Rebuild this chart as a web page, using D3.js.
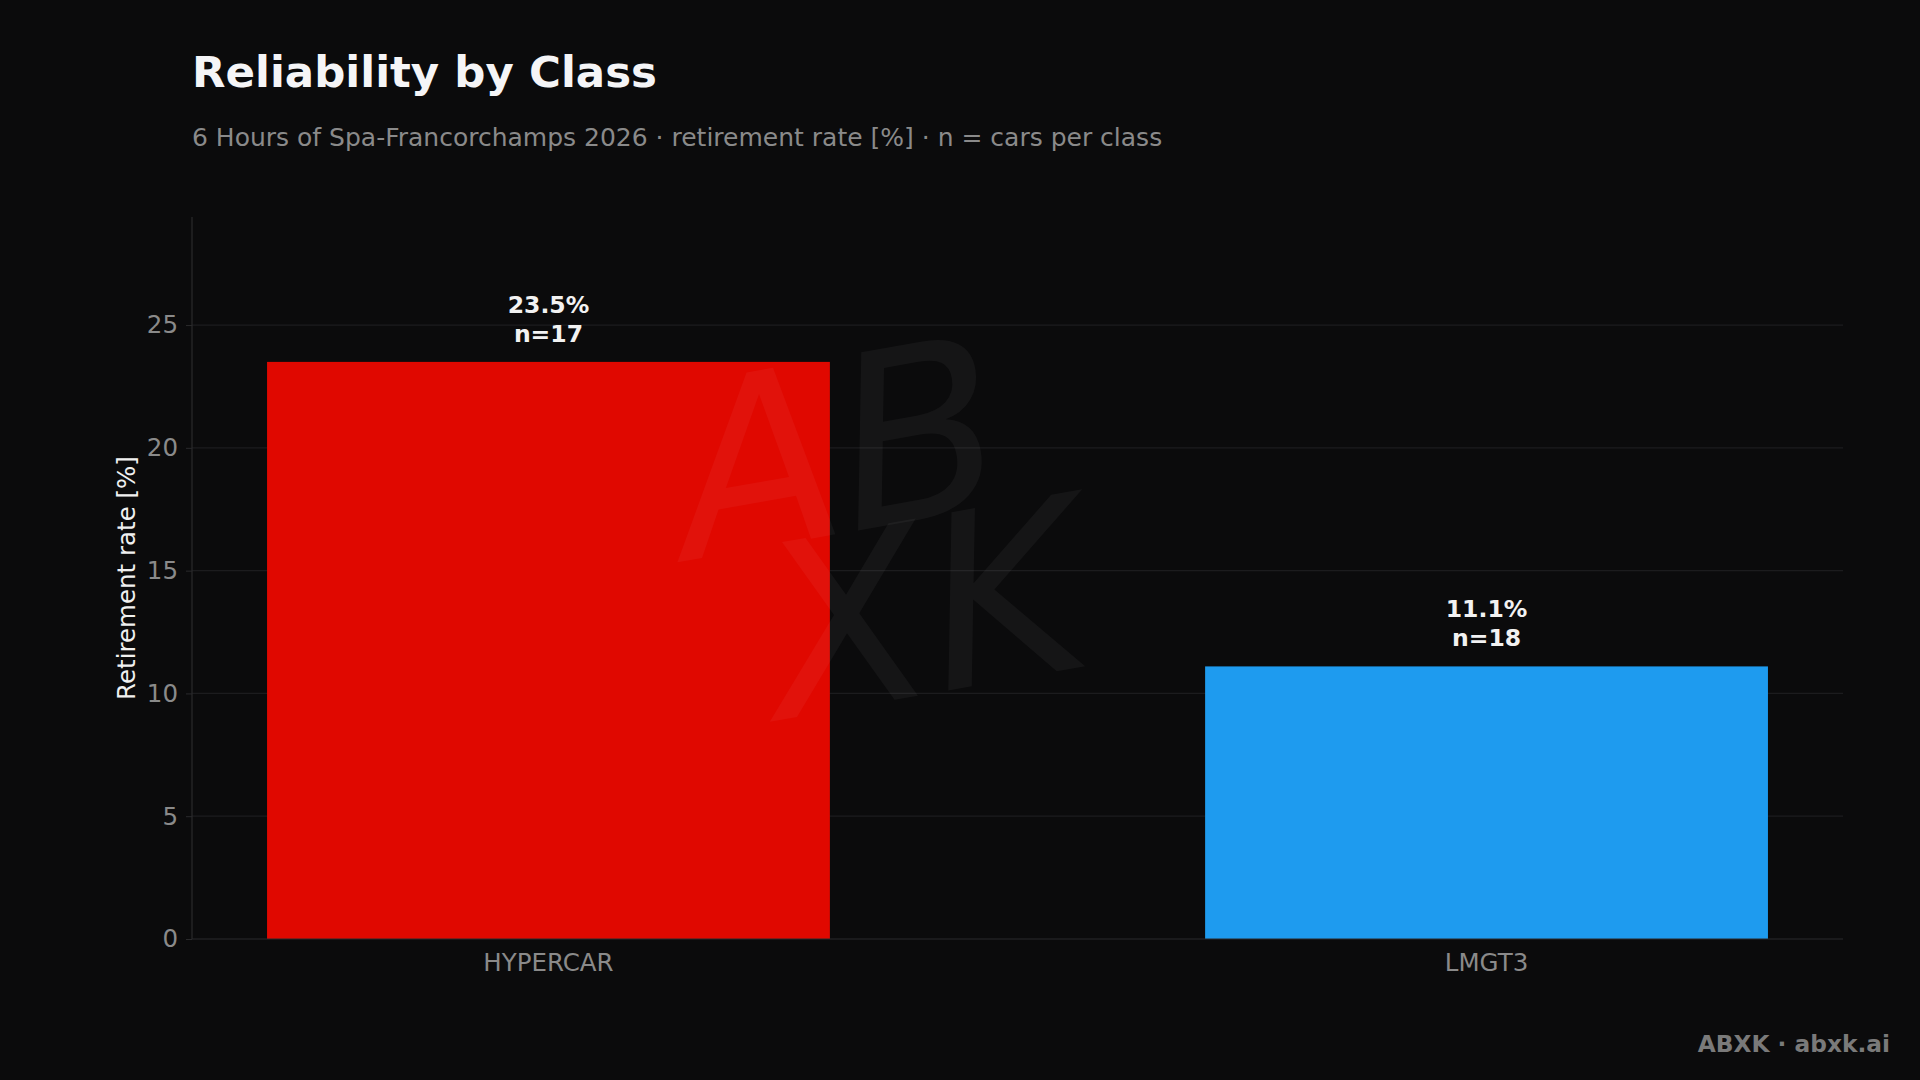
<!DOCTYPE html>
<html>
<head>
<meta charset="utf-8">
<script src="https://cdn.jsdelivr.net/npm/d3@7"></script>
<style>
  body { margin: 0; background: #0b0b0c; }
  svg { display: block; font-family: "DejaVu Sans", sans-serif; }
</style>
</head>
<body>
<div id="chart"></div>
<script>
const classes = ["HYPERCAR", "LMGT3"];
const rates = [23.5, 11.1];
const counts = [17, 18];
const colors = ["#e00800", "#1e9bef"];
const yTicks = [0, 5, 10, 15, 20, 25];

const width = 1920, height = 1080;
const margin = {left: 192, right: 77, top: 217, bottom: 141};

const svg = d3.select("#chart").append("svg")
    .attr("width", width).attr("height", height);
svg.append("rect").attr("width", width).attr("height", height).attr("fill", "#0b0b0c");

const x = d3.scaleBand().domain(classes)
    .range([margin.left, width - margin.right])
    .paddingInner(0.4).paddingOuter(0.08);
const y = d3.scaleLinear().domain([0, 29.4])
    .range([height - margin.bottom, margin.top]);

// gridlines
svg.append("g").selectAll("line").data(yTicks.slice(1)).enter().append("line")
    .attr("x1", margin.left).attr("x2", width - margin.right)
    .attr("y1", d => y(d)).attr("y2", d => y(d))
    .attr("stroke", "#1c1c1e").attr("stroke-width", 1.2);

// bars
svg.append("g").selectAll("rect").data(classes).enter().append("rect")
    .attr("x", d => x(d)).attr("width", x.bandwidth())
    .attr("y", (d, i) => y(rates[i]))
    .attr("height", (d, i) => y(0) - y(rates[i]))
    .attr("fill", (d, i) => colors[i]);

// watermark (on top, very faint)
const wm = svg.append("g").attr("fill", "#ffffff").attr("fill-opacity", 0.045)
    .attr("font-family", "DejaVu Sans").attr("font-style", "italic").attr("font-weight", "300");
wm.append("text").attr("x", 690).attr("y", 560).attr("font-size", 240)
    .attr("transform", "rotate(-10,690,560)").text("AB");
wm.append("text").attr("x", 780).attr("y", 720).attr("font-size", 240)
    .attr("transform", "rotate(-10,780,720)").text("XK");

// value labels
const lbl = svg.append("g").selectAll("text").data(classes).enter().append("text")
    .attr("text-anchor", "middle").attr("fill", "#f2f2f2")
    .attr("font-size", 23.5).attr("font-weight", "bold");
lbl.append("tspan").attr("x", d => x(d) + x.bandwidth() / 2)
    .attr("y", (d, i) => y(rates[i]) - 49).text((d, i) => rates[i].toFixed(1) + "%");
lbl.append("tspan").attr("x", d => x(d) + x.bandwidth() / 2)
    .attr("y", (d, i) => y(rates[i]) - 20).text((d, i) => "n=" + counts[i]);

// axes
const yAxis = svg.append("g").attr("transform", `translate(${margin.left},0)`)
    .call(d3.axisLeft(y).tickValues(yTicks).tickSize(6).tickPadding(8));
const xAxis = svg.append("g").attr("transform", `translate(0,${y(0)})`)
    .call(d3.axisBottom(x).tickSize(0).tickPadding(15));
[yAxis, xAxis].forEach(a => {
  a.select(".domain").attr("stroke", "#2a2a2c").attr("stroke-width", 1.2);
  a.selectAll(".tick line").attr("stroke", "#2a2a2c");
  a.selectAll(".tick text").attr("fill", "#8a8a8a").attr("font-size", 24.5)
    .attr("font-family", "DejaVu Sans");
});
xAxis.select(".domain").attr("d", `M${margin.left},0H${width - margin.right}`);
yAxis.select(".domain").attr("d", `M0,${y(0)}V${margin.top}`);

svg.append("text").attr("transform", `translate(135,${(y(0) + margin.top) / 2 + 0}) rotate(-90)`)
    .attr("text-anchor", "middle").attr("fill", "#f0f0f0").attr("font-size", 24.5)
    .text("Retirement rate [%]");

// titles
svg.append("text").attr("x", 192).attr("y", 87).attr("fill", "#f5f5f7")
    .attr("font-size", 43.5).attr("font-weight", "bold").text("Reliability by Class");
svg.append("text").attr("x", 192).attr("y", 146).attr("fill", "#8a8a8a")
    .attr("font-size", 25)
    .text("6 Hours of Spa-Francorchamps 2026 · retirement rate [%] · n = cars per class");

svg.append("text").attr("x", 1890).attr("y", 1052).attr("text-anchor", "end")
    .attr("fill", "#7a7a7a").attr("font-size", 23.3).attr("font-weight", "bold")
    .text("ABXK · abxk.ai");
</script>
</body>
</html>
